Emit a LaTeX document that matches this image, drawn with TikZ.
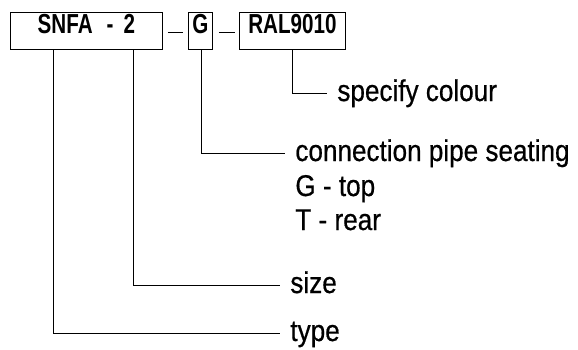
\documentclass[tikz,border=0pt]{standalone}
\usepackage{fontspec}
\setmainfont{Liberation Sans}
\newfontfamily\labfont[FakeStretch=0.87,FakeBold=0.6]{Liberation Sans}
\newfontfamily\boxfont[FakeStretch=0.75]{Liberation Sans}
\begin{document}
\begin{tikzpicture}[x=1pt,y=-1pt,line width=0.8pt,
  codebox/.style={draw,inner sep=0pt,anchor=north west,minimum height=37pt,
    text height=21pt,text depth=16pt,font=\boxfont\bfseries\fontsize{27.5}{30}\selectfont},
  lab/.style={anchor=base west,inner xsep=10pt,inner ysep=0pt,text height=16pt,text depth=0pt,
    font=\labfont\fontsize{30}{36}\selectfont}]
\useasboundingbox (0,0) rectangle (578,349);
\node[codebox,minimum width=152pt] (b1) at (10,12) {SNFA\hspace{14pt}-\hspace{10pt}2};
\node[codebox,minimum width=24pt] (b2) at (188,12) {G};
\node[codebox,minimum width=106pt] (b3) at (239,12) {RAL9010};
\draw ([xshift=5pt,yshift=-1pt]b1.east) -- ([xshift=-5pt,yshift=-1pt]b2.west);
\draw ([xshift=6pt,yshift=-1pt]b2.east) -- ([xshift=-4pt,yshift=-1pt]b3.west);
\node[lab] (col) at (327,101) {specify colour};
\node[lab] (conn) at (285,161) {connection pipe seating};
\node[lab] (gtop) at (285,196) {G - top};
\node[lab] (trear) at (285,230) {T - rear};
\node[lab] (size) at (280,293) {size};
\node[lab] (type) at (280,341) {type};
\draw ([xshift=-33pt]b1.south) |- (type.west);
\draw ([xshift=47pt]b1.south) |- (size.west);
\draw ([xshift=1pt]b2.south) |- (conn.west);
\draw (b3.south) |- (col.west);
\end{tikzpicture}
\end{document}
